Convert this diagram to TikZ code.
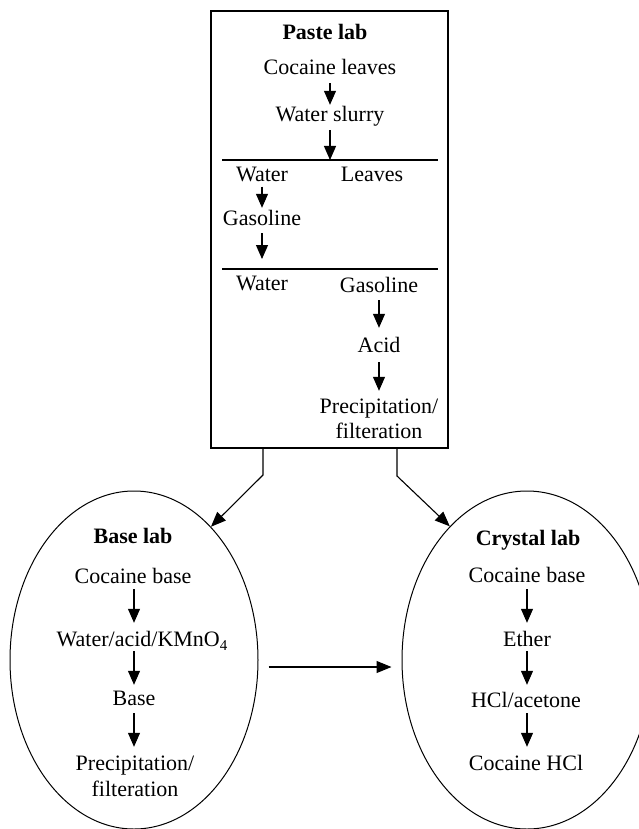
\documentclass[tikz,border=0pt]{standalone}
\usepackage{fontspec}
\setmainfont{Liberation Serif}
\usetikzlibrary{arrows.meta,shapes.geometric}
\tikzset{
  txt/.style={font=\fontsize{22}{26}\selectfont, inner sep=0pt, text height=15pt, text depth=4.5pt, anchor=base},
  ttl/.style={txt, font=\fontsize{22}{26}\selectfont\bfseries},
  flow/.style={-{Triangle[length=14pt,width=12pt]}, line width=1.1pt},
  conn/.style={-{Triangle[length=15pt,width=12pt]}, line width=1.1pt},
  lab/.style={ellipse, draw, line width=1pt, inner sep=0pt, minimum height=338pt},
}
\begin{document}
\begin{tikzpicture}[x=1pt,y=-1pt]
\useasboundingbox (0,0) rectangle (639,829);
% Paste lab box
\node[draw, line width=1.2pt, minimum width=237pt, minimum height=437pt, inner sep=0pt] (paste) at (329.5,229.5) {};
\coordinate (L1a) at (222,160); \coordinate (L1b) at (438,160);
\coordinate (L2a) at (222,269); \coordinate (L2b) at (438,269);
\draw[line width=1.1pt] (L1a) -- (L1b);
\draw[line width=1.1pt] (L2a) -- (L2b);
\node[ttl] (pl) at (325,40) {Paste lab};
\node[txt] (cl) at (330,75) {Cocaine leaves};
\node[txt] (ws) at (330,122) {Water slurry};
\node[txt] (w1) at (262,182) {Water};
\node[txt] (lv) at (372,182) {Leaves};
\node[txt] (g1) at (262,225) {Gasoline};
\node[txt] (w2) at (262,290) {Water};
\node[txt] (g2) at (379,292) {Gasoline};
\node[txt] (ac) at (379,352) {Acid};
\node[txt] (pf1) at (379,413) {Precipitation/};
\node[txt] (pf2) at (379,438) {filteration};
\draw[flow, shorten <=3.5pt, shorten >=2pt] (cl.south) -- (cl.south |- ws.north);
\draw[flow, shorten <=3.5pt] (ws.south) -- (ws.south |- L1a);
\draw[flow, shorten >=2pt] (w1.south) -- (g1.north);
\draw[flow, shorten <=3.5pt, shorten >=10pt] (g1.south) -- (g1.south |- L2a);
\draw[flow, shorten <=3.5pt, shorten >=9pt] (g2.south) -- (ac.north);
\draw[flow, shorten <=5.5pt, shorten >=7pt] (ac.south) -- (pf1.north);
% Base lab
\node[lab, minimum width=248pt] (bell) at (134,660) {};
\node[ttl] (bl) at (133,543) {Base lab};
\node[txt] (b1) at (133,583) {Cocaine base};
\node[txt] (b2) at (142,646) {Water/acid/KMnO\raisebox{-0.45ex}{\fontsize{15}{15}\selectfont 4}};
\node[txt] (b3) at (134,705) {Base};
\node[txt] (b4) at (135,770) {Precipitation/};
\node[txt] (b5) at (135,796) {filteration};
\draw[flow, shorten <=1.5pt, shorten >=8pt] (b3.north |- b1.south) -- (b3.north |- b2.north);
\draw[flow, shorten <=0.5pt, shorten >=5pt] (b3.north |- b2.south) -- (b3.north);
\draw[flow, shorten <=3.5pt, shorten >=8pt] (b3.south) -- (b3.south |- b4.north);
% Crystal lab
\node[lab, minimum width=250pt] (cell) at (527,660) {};
\node[ttl] (crl) at (528,545) {Crystal lab};
\node[txt] (c1) at (527,582) {Cocaine base};
\node[txt] (c2) at (527,646) {Ether};
\node[txt] (c3) at (526,707) {HCl/acetone};
\node[txt] (c4) at (526,770) {Cocaine HCl};
\draw[flow, shorten <=2.5pt, shorten >=8pt] (c1.south) -- (c1.south |- c2.north);
\draw[flow, shorten <=0.5pt, shorten >=7pt] (c2.south) -- (c2.south |- c3.north);
\draw[flow, shorten <=1.5pt, shorten >=8pt] (c2.south |- c3.south) -- (c2.south |- c4.north);
% connectors
\coordinate (lb) at (263,475);
\coordinate (rb) at (397,476);
\coordinate (hy) at (0,667);
\draw[conn] (paste.south -| lb) -- (lb) -- (bell.60);
\draw[conn] (paste.south -| rb) -- (rb) -- (cell.120);
\draw[conn] ([xshift=10pt]bell.east |- hy) -- ([xshift=-10pt]cell.west |- hy);
\end{tikzpicture}
\end{document}
